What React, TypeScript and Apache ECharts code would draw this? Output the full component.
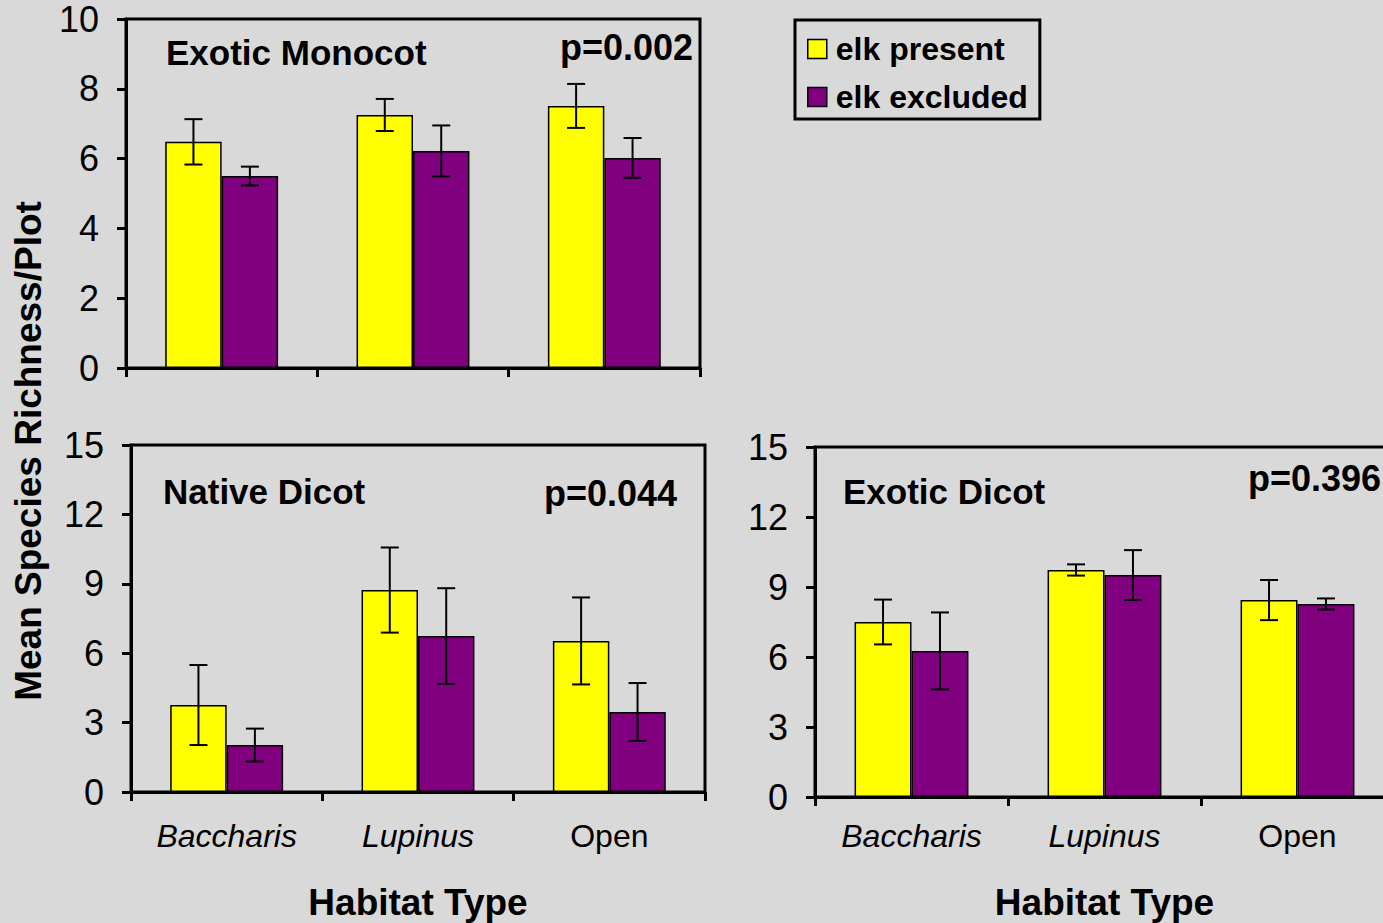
import React, { useEffect, useRef } from "react";
import * as echarts from "echarts";

const categories = ["Baccharis", "Lupinus", "Open"];
const seriesNames = ["elk present", "elk excluded"];

const monoPresent = [6.48, 7.25, 7.51];
const monoPresentErr = [0.65, 0.46, 0.63];
const monoExcluded = [5.5, 6.22, 6.02];
const monoExcludedErr = [0.27, 0.73, 0.57];

const nativePresent = [3.76, 8.73, 6.53];
const nativePresentErr = [1.73, 1.84, 1.88];
const nativeExcluded = [2.03, 6.74, 3.46];
const nativeExcludedErr = [0.71, 2.07, 1.25];

const exoticPresent = [7.5, 9.73, 8.44];
const exoticPresentErr = [0.96, 0.24, 0.86];
const exoticExcluded = [6.26, 9.51, 8.27];
const exoticExcludedErr = [1.65, 1.07, 0.24];

const panelTitles = ["Exotic Monocot", "Native Dicot", "Exotic Dicot"];
const pValues = ["p=0.002", "p=0.044", "p=0.396"];
const yAxisTitle = "Mean Species Richness/Plot";
const xAxisTitle = "Habitat Type";

const FONT = '"Liberation Sans", Arial, Helvetica, sans-serif';
const YELLOW = "#ffff00";
const PURPLE = "#800080";
const BG = "#d9d9d9";

export default function App() {
  const ref = useRef<HTMLDivElement>(null);

  useEffect(() => {
    if (!ref.current) return;
    const chart = echarts.init(ref.current, null, { renderer: "svg" });

    const grids = [
      { left: 126, top: 19, width: 574, height: 349 },
      { left: 131, top: 445, width: 574, height: 347 },
      { left: 815, top: 447, width: 579, height: 350 },
    ].map((g) => ({
      ...g,
      show: true,
      borderColor: "#000",
      borderWidth: 3,
      backgroundColor: "transparent",
      containLabel: false,
    }));

    const panels = [
      { p: monoPresent, pe: monoPresentErr, e: monoExcluded, ee: monoExcludedErr, max: 10, interval: 2, labelMargin: 28, nameGap: 92 },
      { p: nativePresent, pe: nativePresentErr, e: nativeExcluded, ee: nativeExcludedErr, max: 15, interval: 3, labelMargin: 28, nameGap: 92 },
      { p: exoticPresent, pe: exoticPresentErr, e: exoticExcluded, ee: exoticExcludedErr, max: 15, interval: 3, labelMargin: 23, nameGap: 87 },
    ];

    const xAxes = panels.map((pn, i) => ({
      type: "category",
      gridIndex: i,
      data: categories,
      boundaryGap: true,
      axisLine: { show: true, lineStyle: { color: "#000", width: 3 } },
      axisTick: { show: true, interval: 0, length: 9, inside: false, lineStyle: { color: "#000", width: 3 } },
      axisLabel: {
        show: i > 0,
        interval: 0,
        margin: pn.labelMargin,
        color: "#000",
        fontFamily: FONT,
        fontSize: 32,
        formatter: (v: string) => (v === "Open" ? `{n|${v}}` : `{i|${v}}`),
        rich: {
          n: { fontFamily: FONT, fontSize: 32, color: "#000" },
          i: { fontFamily: FONT, fontSize: 32, fontStyle: "italic", color: "#000" },
        },
      },
      name: i > 0 ? xAxisTitle : "",
      nameLocation: "middle",
      nameGap: pn.nameGap,
      nameTextStyle: { fontFamily: FONT, fontSize: 37, fontWeight: "bold", color: "#000" },
      splitLine: { show: false },
    }));

    const yAxes = panels.map((pn, i) => ({
      type: "value",
      gridIndex: i,
      min: 0,
      max: pn.max,
      interval: pn.interval,
      axisLine: { show: true, lineStyle: { color: "#000", width: 3 } },
      axisTick: { show: true, length: 9, inside: false, lineStyle: { color: "#000", width: 3 } },
      axisLabel: { margin: 27, color: "#000", fontFamily: FONT, fontSize: 36 },
      splitLine: { show: false },
    }));

    const errRender = (params: any, api: any) => {
      const cat = api.value(0);
      const lo = api.value(1);
      const hi = api.value(2);
      const side = api.value(3);
      const band = api.size([1, 0])[0];
      const barW = band * 0.295;
      const pLo = api.coord([cat, lo]);
      const pHi = api.coord([cat, hi]);
      const x = pLo[0] + (side * barW) / 2;
      const cap = 9;
      const style = { stroke: "#000", lineWidth: 2 };
      return {
        type: "group",
        children: [
          { type: "line", shape: { x1: x, y1: pLo[1], x2: x, y2: pHi[1] }, style },
          { type: "line", shape: { x1: x - cap, y1: pLo[1], x2: x + cap, y2: pLo[1] }, style },
          { type: "line", shape: { x1: x - cap, y1: pHi[1], x2: x + cap, y2: pHi[1] }, style },
        ],
      };
    };

    const series: any[] = [];
    panels.forEach((pn, i) => {
      [
        { name: seriesNames[0], vals: pn.p, errs: pn.pe, color: YELLOW, side: -1 },
        { name: seriesNames[1], vals: pn.e, errs: pn.ee, color: PURPLE, side: 1 },
      ].forEach((s) => {
        series.push({
          type: "bar",
          name: s.name,
          xAxisIndex: i,
          yAxisIndex: i,
          data: s.vals,
          barCategoryGap: "41%",
          barGap: "0%",
          itemStyle: { color: s.color, borderColor: "#000", borderWidth: 1.5 },
          z: 2,
        });
        series.push({
          type: "custom",
          xAxisIndex: i,
          yAxisIndex: i,
          renderItem: errRender,
          data: s.vals.map((v, k) => [k, v - s.errs[k], v + s.errs[k], s.side]),
          z: 3,
          silent: true,
        });
      });
    });

    const titleFont = `bold 35px ${FONT}`;
    const pFont = `bold 36px ${FONT}`;
    const graphic: any[] = [
      { type: "text", x: 166, y: 52, style: { text: panelTitles[0], font: titleFont, fill: "#000", textAlign: "left", textVerticalAlign: "middle" } },
      { type: "text", x: 693, y: 47, style: { text: pValues[0], font: pFont, fill: "#000", textAlign: "right", textVerticalAlign: "middle" } },
      { type: "text", x: 163, y: 491, style: { text: panelTitles[1], font: titleFont, fill: "#000", textAlign: "left", textVerticalAlign: "middle" } },
      { type: "text", x: 677, y: 493, style: { text: pValues[1], font: pFont, fill: "#000", textAlign: "right", textVerticalAlign: "middle" } },
      { type: "text", x: 843, y: 491, style: { text: panelTitles[2], font: titleFont, fill: "#000", textAlign: "left", textVerticalAlign: "middle" } },
      { type: "text", x: 1381, y: 478, style: { text: pValues[2], font: pFont, fill: "#000", textAlign: "right", textVerticalAlign: "middle" } },
      {
        type: "text",
        x: 28,
        y: 451,
        rotation: Math.PI / 2,
        style: { text: yAxisTitle, font: `bold 37px ${FONT}`, fill: "#000", textAlign: "center", textVerticalAlign: "middle" },
      },
    ];

    chart.setOption({
      animation: false,
      backgroundColor: BG,
      grid: grids,
      xAxis: xAxes,
      yAxis: yAxes,
      series,
      graphic,
      legend: {
        data: seriesNames,
        orient: "vertical",
        left: 795,
        top: 20,
        padding: [13, 12, 6, 12],
        itemGap: 16,
        itemWidth: 19,
        itemHeight: 19,
        borderColor: "#000",
        borderWidth: 3,
        backgroundColor: "transparent",
        icon: "rect",
        itemStyle: { borderColor: "#000", borderWidth: 1.5 },
        textStyle: { fontFamily: FONT, fontSize: 32, fontWeight: "bold", color: "#000", padding: [0, 0, 0, 4] },
        selectedMode: false,
      },
    });

    return () => chart.dispose();
  }, []);

  return (
    <div style={{ position: "fixed", left: 0, top: 0, width: 1383, height: 923, overflow: "hidden", background: BG }}>
      <div ref={ref} style={{ width: 1410, height: 923 }} />
    </div>
  );
}
